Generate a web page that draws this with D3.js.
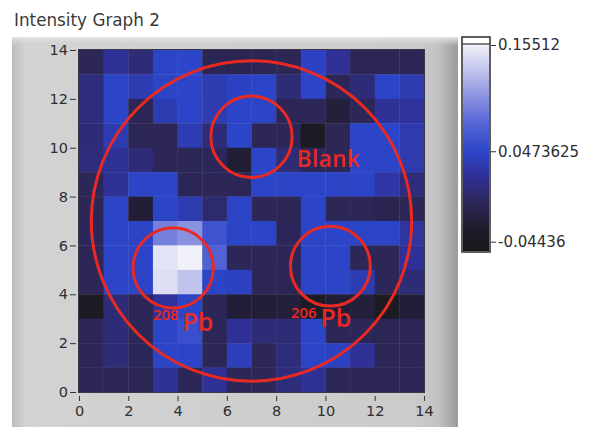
<!DOCTYPE html>
<html>
<head>
<meta charset="utf-8">
<script src="https://cdn.jsdelivr.net/npm/d3@7"></script>
<style>
  html, body { margin: 0; padding: 0; background: #fff; }
  svg { display: block; }
  .tick text { font-family: "DejaVu Sans", sans-serif; font-size: 14.5px; fill: #2e2e2e; }
  .ramp .tick text { font-size: 15px; }
  .tick line { stroke: #333; }
</style>
</head>
<body>
<svg id="chart" width="599" height="427"></svg>
<script>
// Intensity map: 14 x 14 cells, rows listed from y = 13 (top) down to y = 0.
const rowsTopDown = [
  [-0.006, 0.022, 0.008, 0.046, 0.048, -0.008, -0.010, -0.008, -0.006, 0.044, 0.022, -0.006, -0.008, -0.006],
  [ 0.010, 0.047, 0.036, 0.046, 0.048, 0.036, 0.044, 0.047, 0.008, 0.046, -0.006, 0.008, 0.046, 0.036],
  [ 0.010, 0.046, -0.008, 0.036, 0.047, 0.036, 0.047, 0.046, -0.006, -0.006, -0.022, -0.006, 0.022, 0.024],
  [ 0.008, 0.036, -0.008, -0.006, 0.036, 0.008, 0.047, -0.006, -0.006, -0.040, -0.006, 0.047, 0.047, 0.034],
  [ 0.010, 0.022, 0.008, -0.006, -0.006, -0.004, -0.026, 0.047, 0.008, -0.006, -0.006, 0.047, 0.046, 0.034],
  [-0.006, 0.022, 0.046, 0.047, -0.006, -0.006, -0.006, 0.047, 0.046, 0.047, 0.046, 0.046, 0.030, 0.010],
  [-0.006, 0.046, -0.024, 0.046, 0.036, 0.004, 0.046, -0.006, -0.006, 0.047, -0.006, -0.006, -0.010, -0.006],
  [-0.004, 0.047, 0.046, 0.092, 0.102, 0.060, 0.046, 0.047, -0.004, 0.046, 0.047, 0.046, 0.046, 0.026],
  [-0.006, 0.046, 0.047, 0.148, 0.155, 0.072, -0.006, -0.006, -0.006, 0.046, 0.047, -0.006, -0.006, 0.022],
  [-0.006, 0.046, 0.047, 0.145, 0.130, 0.046, 0.044, -0.006, -0.008, 0.047, 0.046, 0.036, -0.006, 0.008],
  [-0.040, 0.008, -0.006, 0.024, 0.046, -0.006, -0.024, -0.024, -0.022, -0.038, -0.024, -0.022, -0.040, -0.024],
  [-0.006, 0.008, -0.006, 0.046, 0.056, -0.006, 0.022, 0.008, 0.008, 0.046, -0.006, -0.006, -0.008, -0.006],
  [-0.006, 0.008, -0.004, 0.046, 0.047, -0.006, 0.040, -0.006, 0.010, 0.046, 0.044, 0.022, -0.006, -0.006],
  [-0.006, -0.006, -0.008, 0.022, -0.006, 0.022, -0.006, -0.006, 0.010, 0.022, -0.006, -0.006, -0.008, -0.006]
];

// Axis ticks and colour-ramp markers
const xTicks = [0, 2, 4, 6, 8, 10, 12, 14];
const yTicks = [0, 2, 4, 6, 8, 10, 12, 14];
const rampMarkers = [0.15512, 0.0473625, -0.04436];
const rampLabels = ["0.15512", "0.0473625", "-0.04436"];

// Regions of interest drawn over the map (centre x, centre y, radius, in cell units)
const regions = [
  { name: "sample", cx: 7.0,  cy: 7.0,  r: 6.5 },
  { name: "blank",  cx: 7.0,  cy: 10.45, r: 1.65 },
  { name: "pb208",  cx: 3.82, cy: 5.08, r: 1.63 },
  { name: "pb206",  cx: 10.2, cy: 5.15, r: 1.62 }
];

const svg = d3.select("#chart");
const defs = svg.append("defs");

// ---- panel frame ----
const panel = { x0: 12, y0: 37, x1: 458, y1: 427 };
const sideGrad = defs.append("linearGradient").attr("id", "sideGrad").attr("x1", 0).attr("x2", 1).attr("y1", 0).attr("y2", 0);
[[0, "#bdbdbd"], [0.03, "#d3d3d3"], [0.9, "#cbcbcb"], [0.955, "#c3c3c3"], [1, "#9b9b9b"]]
  .forEach(([o, c]) => sideGrad.append("stop").attr("offset", o).attr("stop-color", c));
svg.append("rect")
  .attr("x", panel.x0).attr("y", panel.y0)
  .attr("width", panel.x1 - panel.x0).attr("height", panel.y1 - panel.y0)
  .attr("fill", "url(#sideGrad)");
const topGrad = defs.append("linearGradient").attr("id", "topGrad").attr("x1", 0).attr("x2", 0).attr("y1", 0).attr("y2", 1);
[[0, "#e6e6e6"], [1, "rgba(210,210,210,0)"]]
  .forEach(([o, c]) => topGrad.append("stop").attr("offset", o).attr("stop-color", c));
svg.append("rect")
  .attr("x", panel.x0).attr("y", panel.y0)
  .attr("width", panel.x1 - panel.x0).attr("height", 9)
  .attr("fill", "url(#topGrad)");

// ---- title ----
svg.append("text")
  .attr("x", 14).attr("y", 26)
  .attr("font-family", "DejaVu Sans, sans-serif")
  .attr("font-size", 16.8)
  .attr("fill", "#3a3a3a")
  .text("Intensity Graph 2");

// ---- scales ----
const plot = { left: 79, right: 424, top: 50, bottom: 392 };
const x = d3.scaleLinear().domain([0, 14]).range([plot.left, plot.right]);
const y = d3.scaleLinear().domain([0, 14]).range([plot.bottom, plot.top]);

const color = d3.scaleLinear()
  .domain([-0.04436, -0.025, -0.005, 0.02, 0.0473625, 0.08, 0.12, 0.15512])
  .range(["#1a191d", "#221e36", "#2c2759", "#302f92", "#2c45c9", "#5d6bd7", "#aeb2e8", "#f1f1f9"])
  .clamp(true);

// ---- heat map cells ----
const cells = [];
rowsTopDown.forEach((row, ri) => {
  const yi = rowsTopDown.length - 1 - ri;
  row.forEach((v, xi) => cells.push({ xi, yi, v }));
});
svg.append("g").selectAll("rect").data(cells).join("rect")
  .attr("x", d => x(d.xi))
  .attr("y", d => y(d.yi + 1))
  .attr("width", d => x(d.xi + 1) - x(d.xi) + 0.3)
  .attr("height", d => y(d.yi) - y(d.yi + 1) + 0.3)
  .attr("fill", d => color(d.v));

svg.append("rect")
  .attr("x", plot.left - 0.5).attr("y", plot.top - 0.5)
  .attr("width", plot.right - plot.left + 1).attr("height", plot.bottom - plot.top + 1)
  .attr("fill", "none").attr("stroke", "#3a3848").attr("stroke-width", 1);

// ---- axes ----
const yAxis = d3.axisLeft(y).tickValues(yTicks).tickFormat(d3.format("d")).tickSize(6).tickPadding(2);
svg.append("g").attr("transform", `translate(${plot.left - 3},0)`).call(yAxis)
  .call(g => g.select(".domain").remove());

const xAxis = d3.axisBottom(x).tickValues(xTicks).tickFormat(d3.format("d")).tickSize(5).tickPadding(5);
svg.append("g").attr("transform", `translate(0,${plot.bottom + 4})`).call(xAxis)
  .call(g => g.select(".domain").remove());

// ---- colour ramp ----
const ramp = { x: 462, w: 28, top: 37, bottom: 252 };
const rampY = d3.scaleLinear().domain([-0.04436, 0.15512]).range([241.7, 45]);
const rampGrad = defs.append("linearGradient").attr("id", "rampGrad")
  .attr("gradientUnits", "userSpaceOnUse")
  .attr("x1", 0).attr("x2", 0).attr("y1", ramp.bottom).attr("y2", rampY(0.15512));
d3.range(0, 41).forEach(i => {
  const yy = ramp.bottom + (rampY(0.15512) - ramp.bottom) * i / 40;
  rampGrad.append("stop").attr("offset", i / 40).attr("stop-color", color(rampY.invert(yy)));
});
svg.append("rect")
  .attr("x", ramp.x).attr("y", ramp.top)
  .attr("width", ramp.w).attr("height", ramp.bottom - ramp.top)
  .attr("fill", "#ffffff").attr("stroke", "#2a2a2a").attr("stroke-width", 1.5);
svg.append("rect")
  .attr("x", ramp.x + 1).attr("y", rampY(0.15512))
  .attr("width", ramp.w - 2).attr("height", ramp.bottom - rampY(0.15512) - 1)
  .attr("fill", "url(#rampGrad)");
svg.append("line")
  .attr("x1", ramp.x).attr("x2", ramp.x + ramp.w)
  .attr("y1", rampY(0.15512) - 1).attr("y2", rampY(0.15512) - 1)
  .attr("stroke", "#2a2a2a").attr("stroke-width", 1.2);

const rampAxis = d3.axisRight(rampY).tickValues(rampMarkers)
  .tickFormat((d, i) => rampLabels[i]).tickSize(5).tickPadding(2);
svg.append("g").attr("class", "ramp").attr("transform", `translate(${ramp.x + ramp.w + 1},0)`).call(rampAxis)
  .call(g => g.select(".domain").remove());

// ---- regions of interest ----
const red = "#ea2a22";
svg.append("g").selectAll("circle").data(regions).join("circle")
  .attr("cx", d => x(d.cx))
  .attr("cy", d => y(d.cy))
  .attr("r", d => x(d.r) - x(0))
  .attr("fill", "none")
  .attr("stroke", red)
  .attr("stroke-width", 3);

const annot = svg.append("g").attr("fill", red).attr("font-family", "Open Sans, sans-serif").attr("font-weight", 600);
annot.append("text").attr("x", x(8.84)).attr("y", y(9.2)).attr("font-size", 22.5).attr("letter-spacing", 0.4).text("Blank");
annot.append("text").attr("x", x(3.0)).attr("y", y(2.93)).attr("font-size", 15).text("208");
annot.append("text").attr("x", x(4.2)).attr("y", y(2.48)).attr("font-size", 25).text("Pb");
annot.append("text").attr("x", x(8.6)).attr("y", y(3.02)).attr("font-size", 15).text("206");
annot.append("text").attr("x", x(9.8)).attr("y", y(2.68)).attr("font-size", 25).text("Pb");
</script>
</body>
</html>
